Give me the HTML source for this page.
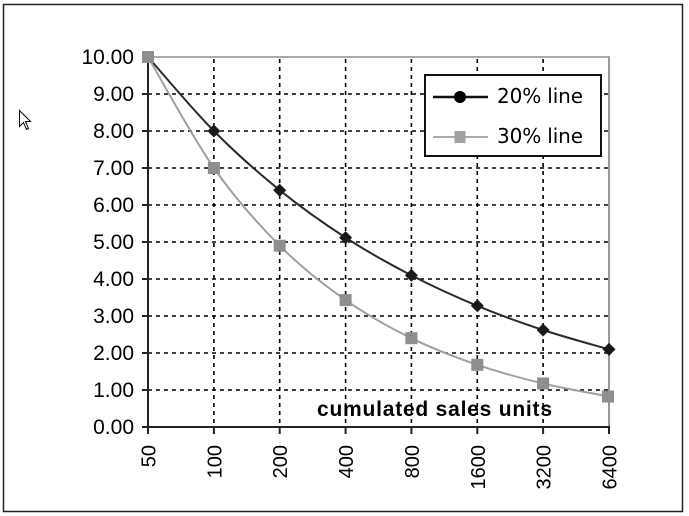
<!DOCTYPE html>
<html>
<head>
<meta charset="utf-8">
<style>
html,body{margin:0;padding:0;background:#fff;}
svg{display:block;}
</style>
</head>
<body>
<svg width="689" height="516" viewBox="0 0 689 516" xmlns="http://www.w3.org/2000/svg">
<rect x="0" y="0" width="689" height="516" fill="#fff"/>
<rect x="3.5" y="4.5" width="679" height="507" fill="none" stroke="#222" stroke-width="1.5"/>

<!-- cursor -->
<path d="M19.5,110.5 L19.5,126.5 L23.5,122.5 L26.5,129.5 L28.5,128.5 L25.5,121.5 L30.5,121.5 Z" fill="#fff" stroke="#000" stroke-width="1"/>

<!-- gridlines -->
<g stroke="#000" stroke-width="1.6" stroke-dasharray="4 4" fill="none">
<line x1="148" y1="94" x2="609" y2="94"/>
<line x1="148" y1="131" x2="609" y2="131"/>
<line x1="148" y1="168" x2="609" y2="168"/>
<line x1="148" y1="205" x2="609" y2="205"/>
<line x1="148" y1="242" x2="609" y2="242"/>
<line x1="148" y1="279" x2="609" y2="279"/>
<line x1="148" y1="316" x2="609" y2="316"/>
<line x1="148" y1="353" x2="609" y2="353"/>
<line x1="148" y1="390" x2="609" y2="390"/>
<line x1="213.9" y1="59" x2="213.9" y2="427"/>
<line x1="279.7" y1="59" x2="279.7" y2="427"/>
<line x1="345.6" y1="59" x2="345.6" y2="427"/>
<line x1="411.4" y1="59" x2="411.4" y2="427"/>
<line x1="477.3" y1="59" x2="477.3" y2="427"/>
<line x1="543.1" y1="59" x2="543.1" y2="427"/>
</g>

<!-- plot border top/right -->
<line x1="148" y1="57" x2="610" y2="57" stroke="#aaa" stroke-width="2"/>
<line x1="609" y1="57" x2="609" y2="427" stroke="#999" stroke-width="2"/>

<!-- axes -->
<line x1="148" y1="56" x2="148" y2="428" stroke="#222" stroke-width="2"/>
<line x1="147" y1="427" x2="610" y2="427" stroke="#222" stroke-width="2"/>
<g stroke="#222" stroke-width="2">
<line x1="142" y1="57" x2="148" y2="57"/>
<line x1="142" y1="94" x2="148" y2="94"/>
<line x1="142" y1="131" x2="148" y2="131"/>
<line x1="142" y1="168" x2="148" y2="168"/>
<line x1="142" y1="205" x2="148" y2="205"/>
<line x1="142" y1="242" x2="148" y2="242"/>
<line x1="142" y1="279" x2="148" y2="279"/>
<line x1="142" y1="316" x2="148" y2="316"/>
<line x1="142" y1="353" x2="148" y2="353"/>
<line x1="142" y1="390" x2="148" y2="390"/>
<line x1="142" y1="427" x2="148" y2="427"/>
<line x1="148" y1="427" x2="148" y2="434"/>
<line x1="213.9" y1="427" x2="213.9" y2="434"/>
<line x1="279.7" y1="427" x2="279.7" y2="434"/>
<line x1="345.6" y1="427" x2="345.6" y2="434"/>
<line x1="411.4" y1="427" x2="411.4" y2="434"/>
<line x1="477.3" y1="427" x2="477.3" y2="434"/>
<line x1="543.1" y1="427" x2="543.1" y2="434"/>
<line x1="609" y1="427" x2="609" y2="434"/>
</g>

<!-- y labels -->
<g font-family="'Liberation Sans', Arial, sans-serif" font-size="21" fill="#000" text-anchor="end">
<text x="134" y="64">10.00</text>
<text x="134" y="101">9.00</text>
<text x="134" y="138">8.00</text>
<text x="134" y="175">7.00</text>
<text x="134" y="212">6.00</text>
<text x="134" y="249">5.00</text>
<text x="134" y="286">4.00</text>
<text x="134" y="323">3.00</text>
<text x="134" y="360">2.00</text>
<text x="134" y="397">1.00</text>
<text x="134" y="434">0.00</text>
</g>

<!-- x labels -->
<g font-family="'Liberation Sans', Arial, sans-serif" font-size="20" fill="#000" text-anchor="end">
<text transform="translate(155.5,445) rotate(-90)">50</text>
<text transform="translate(221.4,445) rotate(-90)">100</text>
<text transform="translate(287.2,445) rotate(-90)">200</text>
<text transform="translate(353.1,445) rotate(-90)">400</text>
<text transform="translate(418.9,445) rotate(-90)">800</text>
<text transform="translate(484.8,445) rotate(-90)">1600</text>
<text transform="translate(550.6,445) rotate(-90)">3200</text>
<text transform="translate(616.5,445) rotate(-90)">6400</text>
</g>

<!-- axis title -->
<text x="317" y="416" font-family="'Liberation Sans', Arial, sans-serif" font-size="21" font-weight="bold" fill="#000" textLength="235" lengthAdjust="spacing">cumulated sales units</text>

<!-- 20% series (smoothed) -->
<path d="M148,57 C158.98,69.33 191.95,108.8 213.9,131 C235.85,153.2 257.75,172.43 279.7,190.2 C301.65,207.97 323.65,223.4 345.6,237.6 C367.55,251.8 389.45,264.03 411.4,275.4 C433.35,286.77 455.35,296.7 477.3,305.8 C499.25,314.9 521.15,322.73 543.1,330 C565.05,337.27 598.02,346.17 609,349.4" fill="none" stroke="#2a2a2a" stroke-width="2"/>
<g fill="#1a1a1a">
<path d="M213.9,124.5 L220.4,131 L213.9,137.5 L207.4,131 Z"/>
<path d="M279.7,183.7 L286.2,190.2 L279.7,196.7 L273.2,190.2 Z"/>
<path d="M345.6,231.1 L352.1,237.6 L345.6,244.1 L339.1,237.6 Z"/>
<path d="M411.4,268.9 L417.9,275.4 L411.4,281.9 L404.9,275.4 Z"/>
<path d="M477.3,299.3 L483.8,305.8 L477.3,312.3 L470.8,305.8 Z"/>
<path d="M543.1,323.5 L549.6,330 L543.1,336.5 L536.6,330 Z"/>
<path d="M609,342.9 L615.5,349.4 L609,355.9 L602.5,349.4 Z"/>
</g>

<!-- 30% series (smoothed) -->
<path d="M148,57 C158.98,75.5 191.95,136.55 213.9,168 C235.85,199.45 257.75,223.68 279.7,245.7 C301.65,267.72 323.65,284.68 345.6,300.1 C367.55,315.52 389.45,327.42 411.4,338.2 C433.35,348.98 455.35,357.25 477.3,364.8 C499.25,372.35 521.15,378.22 543.1,383.5 C565.05,388.78 598.02,394.33 609,396.5" fill="none" stroke="#a0a0a0" stroke-width="2"/>
<g fill="#8e8e8e">
<rect x="142" y="51" width="12" height="12"/>
<rect x="207.9" y="162" width="12" height="12"/>
<rect x="273.7" y="239.7" width="12" height="12"/>
<rect x="339.6" y="294.1" width="12" height="12"/>
<rect x="405.4" y="332.2" width="12" height="12"/>
<rect x="471.3" y="358.8" width="12" height="12"/>
<rect x="537.1" y="377.5" width="12" height="12"/>
<rect x="602" y="390.5" width="12" height="12"/>
</g>

<!-- legend -->
<rect x="425" y="75" width="176" height="81" fill="#fff" stroke="#111" stroke-width="2"/>
<line x1="433" y1="97" x2="488" y2="97" stroke="#111" stroke-width="2.5"/>
<circle cx="460" cy="97" r="6" fill="#000"/>
<line x1="433" y1="137" x2="488" y2="137" stroke="#aaa" stroke-width="2"/>
<rect x="454.5" y="131" width="11" height="12" fill="#a0a0a0"/>
<g font-family="'DejaVu Sans', sans-serif" font-size="20" fill="#000">
<text x="497" y="103" textLength="86" lengthAdjust="spacing">20%  line</text>
<text x="497" y="143" textLength="86" lengthAdjust="spacing">30%  line</text>
</g>
</svg>
</body>
</html>
